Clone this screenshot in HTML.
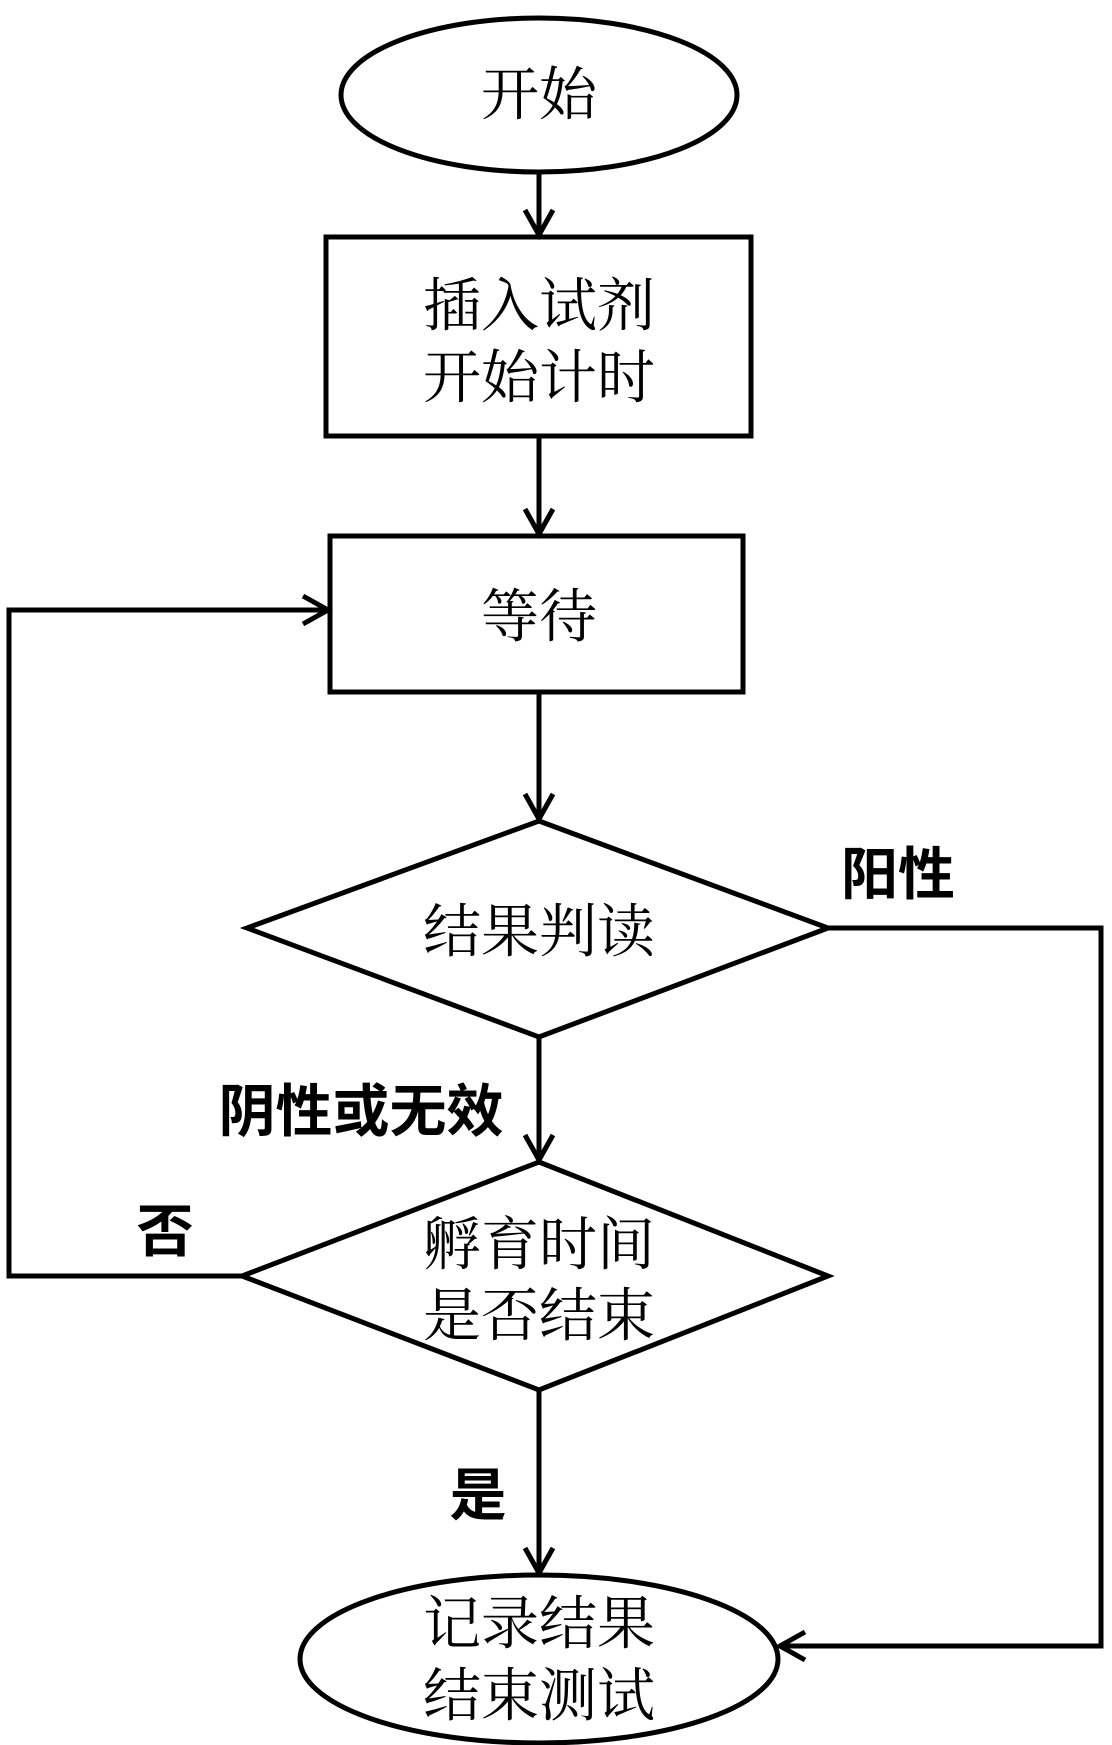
<!DOCTYPE html>
<html><head><meta charset="utf-8"><style>
html,body{margin:0;padding:0;background:#fff;}
svg{display:block;}
.t{font-family:"Liberation Serif","Noto Serif CJK SC",serif;font-size:58px;fill:#000;text-anchor:middle;dominant-baseline:central;}
.b{font-family:"Liberation Sans","Noto Sans CJK SC",sans-serif;font-size:57px;font-weight:bold;fill:#000;text-anchor:middle;dominant-baseline:central;}
</style></head><body>
<svg width="1112" height="1745" viewBox="0 0 1112 1745" xmlns="http://www.w3.org/2000/svg">
<g fill="none" stroke="#000" stroke-width="5">
<ellipse cx="539" cy="95" rx="198" ry="77"/>
<rect x="326" y="237" width="425" height="199"/>
<rect x="330" y="536" width="413" height="156"/>
<polygon points="539,821 828,928 539,1037 247,928"/>
<polygon points="539,1162 828,1276 539,1390 242,1276"/>
<ellipse cx="539" cy="1659" rx="239" ry="84"/>
<line x1="539" y1="172" x2="539" y2="235"/>
<line x1="539" y1="436" x2="539" y2="534"/>
<line x1="539" y1="692" x2="539" y2="819"/>
<line x1="539" y1="1037" x2="539" y2="1160"/>
<line x1="539" y1="1390" x2="539" y2="1573"/>
<polyline points="242,1276 9,1276 9,610 328,610"/>
<polyline points="828,928 1101,928 1101,1646 780,1646"/>
<polyline points="525,210 539,235 553,210"/>
<polyline points="525,509 539,534 553,509"/>
<polyline points="525,794 539,819 553,794"/>
<polyline points="525,1135 539,1160 553,1135"/>
<polyline points="525,1548 539,1573 553,1548"/>
<polyline points="303,596 328,610 303,624"/>
<polyline points="805,1632 780,1646 805,1660"/>
</g>
<text class="t" x="539" y="306">插入试剂</text>
<text class="t" x="539" y="95">开始</text>
<text class="t" x="539" y="378">开始计时</text>
<text class="t" x="539" y="617">等待</text>
<text class="t" x="539" y="932">结果判读</text>
<text class="t" x="539" y="1245">孵育时间</text>
<text class="t" x="539" y="1316">是否结束</text>
<text class="t" x="539" y="1624">记录结果</text>
<text class="t" x="539" y="1696">结束测试</text>
<text class="b" x="898" y="875">阳性</text>
<text class="b" x="361" y="1112">阴性或无效</text>
<text class="b" x="165" y="1232">否</text>
<text class="b" x="478" y="1496">是</text>
</svg>
</body></html>
